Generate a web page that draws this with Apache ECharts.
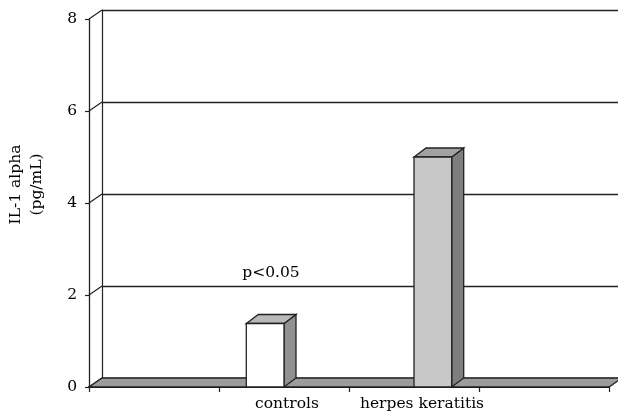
<!DOCTYPE html>
<html>
<head>
<meta charset="utf-8">
<script src="https://cdn.jsdelivr.net/npm/echarts@6/dist/echarts.min.js"></script>
<style>html,body{margin:0;padding:0;background:#fff}#c{width:618px;height:414px}</style>
</head>
<body>
<div id="c"></div>
<script>
var categories = ['', 'controls', 'herpes keratitis', ''];
var controlsValues = [null, 1.38, null, null];
var herpesValues = [null, null, 5.0, null];
var yTicks = [0, 2, 4, 6, 8];
var yAxisTitle = 'IL-1 alpha\n(pg/mL)';
var annotation = {text: 'p<0.05', category: 1, value: 2};

var FONT = 'DejaVu Serif';
var DX = 13, DY = 9;      // wall depth offset
var BDX = 12, BDY = 9;    // bar depth offset
var INK = '#222222';
var TXT = '#000000';

function barRender(slot, front, top, side) {
  return function (params, api) {
    var v = api.value(1);
    if (v == null || isNaN(v)) return null;
    var c = api.coord([api.value(0), v]);
    var b = api.coord([api.value(0), 0]);
    var band = api.size([1, 0])[0];
    var w = band * 0.29;
    var xl = slot === 0 ? c[0] - w : c[0];
    var xr = xl + w, yt = c[1], yb = b[1];
    var st = {stroke: INK, lineWidth: 1.3};
    return {type: 'group', children: [
      {type: 'polygon', shape: {points: [[xr, yt], [xr + BDX, yt - BDY], [xr + BDX, yb - BDY], [xr, yb]]},
        style: Object.assign({fill: side}, st)},
      {type: 'polygon', shape: {points: [[xl, yt], [xr, yt], [xr + BDX, yt - BDY], [xl + BDX, yt - BDY]]},
        style: Object.assign({fill: top}, st)},
      {type: 'rect', shape: {x: xl, y: yt, width: w, height: yb - yt},
        style: Object.assign({fill: front}, st)}
    ]};
  };
}

var chart = echarts.init(document.getElementById('c'));
chart.setOption({
  animation: false,
  backgroundColor: '#fff',
  grid: [
    {left: 89, right: 9, top: 19, bottom: 27, outerBoundsMode: 'none', containLabel: false},
    {left: 89 + DX, right: 0, top: 19 - DY, bottom: 27 + DY, outerBoundsMode: 'none', containLabel: false}
  ],
  xAxis: [
    {type: 'category', gridIndex: 0, data: categories, boundaryGap: true,
      axisLine: {show: true, lineStyle: {color: '#111', width: 2}},
      axisTick: {show: true, interval: 0, length: 5, lineStyle: {color: INK, width: 1.2}},
      axisLabel: {interval: 0, margin: 9, color: TXT, fontFamily: FONT, fontSize: 15.5,
        formatter: function (v) {
          if (v === 'herpes keratitis') return '{h|' + v + '}';
          if (v === 'controls') return '{c|' + v + '}';
          return v;
        },
        rich: {
          h: {padding: [0, 0, 0, 16], fontFamily: FONT, fontSize: 15.5, color: TXT},
          c: {padding: [0, 0, 0, 6], fontFamily: FONT, fontSize: 15.5, color: TXT}
        }},
      splitLine: {show: false}},
    {type: 'category', gridIndex: 1, data: categories, show: false}
  ],
  yAxis: [
    {type: 'value', gridIndex: 0, min: 0, max: 8, interval: 2,
      name: yAxisTitle, nameLocation: 'middle', nameRotate: 90, nameGap: 42,
      nameTextStyle: {fontFamily: FONT, fontSize: 15.5, color: TXT, lineHeight: 21, padding: [0, 0, 0, 37]},
      axisLine: {show: true, lineStyle: {color: INK, width: 1.3}},
      axisTick: {show: true, length: 4, lineStyle: {color: INK, width: 1.2}},
      axisLabel: {margin: 12, color: TXT, fontFamily: FONT, fontSize: 15.5, padding: [6, 0, 0, 0]},
      splitLine: {show: false}},
    {type: 'value', gridIndex: 1, min: 0, max: 8, interval: 2,
      axisLine: {show: true, lineStyle: {color: INK, width: 1.2}},
      axisTick: {show: false}, axisLabel: {show: false},
      splitLine: {show: true, lineStyle: {color: INK, width: 1.3}}}
  ],
  series: [
    {type: 'custom', xAxisIndex: 0, yAxisIndex: 0, z: 1,
      data: yTicks.map(function (t) { return [0, t]; }),
      renderItem: function (params, api) {
        var cs = params.coordSys;
        var y = api.coord([0, api.value(1)])[1];
        return {type: 'line', shape: {x1: cs.x, y1: y, x2: cs.x + DX, y2: y - DY},
          style: {stroke: INK, lineWidth: 1.2}};
      }},
    {type: 'custom', xAxisIndex: 0, yAxisIndex: 0, z: 2,
      data: [[0, 0]],
      renderItem: function (params, api) {
        var cs = params.coordSys;
        var y = api.coord([0, 0])[1];
        var x0 = cs.x, x1 = cs.x + cs.width;
        return {type: 'polygon', shape: {points: [[x0, y], [x1, y], [x1 + DX, y - DY], [x0 + DX, y - DY]]},
          style: {fill: '#9c9c9c', stroke: INK, lineWidth: 1.3}};
      }},
    {type: 'custom', name: 'controls', xAxisIndex: 0, yAxisIndex: 0, z: 3,
      data: controlsValues.map(function (v, i) { return [i, v]; }),
      renderItem: barRender(0, '#ffffff', '#b9b9b9', '#919191')},
    {type: 'custom', name: 'herpes keratitis', xAxisIndex: 0, yAxisIndex: 0, z: 3,
      data: herpesValues.map(function (v, i) { return [i, v]; }),
      renderItem: barRender(1, '#c8c8c8', '#a2a2a2', '#7e7e7e')},
    {type: 'custom', xAxisIndex: 0, yAxisIndex: 0, z: 4,
      data: [[annotation.category, annotation.value]],
      renderItem: function (params, api) {
        var p = api.coord([api.value(0), api.value(1)]);
        return {type: 'text', x: p[0] - 13, y: p[1] - 22,
          style: {text: annotation.text, fontFamily: FONT, fontSize: 15.5, fill: TXT,
            align: 'center', verticalAlign: 'middle'}};
      }}
  ]
});
</script>
</body>
</html>
